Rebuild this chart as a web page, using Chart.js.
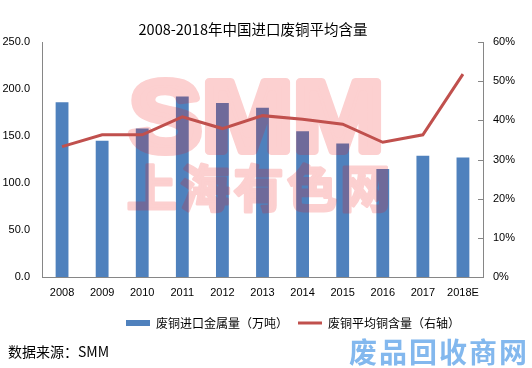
<!DOCTYPE html>
<html>
<head>
<meta charset="utf-8">
<script src="https://cdn.jsdelivr.net/npm/chart.js@4.4.1/dist/chart.umd.min.js"></script>
<style>
  html, body { margin: 0; padding: 0; background: #fff; }
  #wrap { position: relative; width: 532px; height: 368px; overflow: hidden; }
  #source { position: absolute; left: 8px; top: 341px; font: 14px "Noto Sans CJK SC", sans-serif; color: #000; line-height: 20px; }
  #logo { position: absolute; left: 349px; top: 334px; font: bold 28px "Noto Sans CJK SC", sans-serif; color: #83b8ee; letter-spacing: 2px; line-height: 34px; }
</style>
</head>
<body>
<div id="wrap">
  <canvas id="scrapChart" width="532" height="368"></canvas>
  <div id="source">数据来源：SMM</div>
  <div id="logo">废品回收商网</div>
</div>
<script>
// categories and values
const years = ['2008', '2009', '2010', '2011', '2012', '2013', '2014', '2015', '2016', '2017', '2018E'];
const importMetal = [186, 145, 158, 192, 185, 180, 155, 142, 115, 129, 127];   // 万吨
const avgCopper = [33.3, 36.3, 36.3, 40.9, 37.9, 41.2, 40.3, 39.0, 34.4, 36.3, 51.8]; // %
const leftTicks = [0, 50, 100, 150, 200, 250];
const rightTicks = [0, 10, 20, 30, 40, 50, 60];

const labelFont = { family: '"Liberation Sans", "Noto Sans CJK SC", sans-serif', size: 11 };

// SMM / 上海有色网 watermark, drawn over the bars but under the line
const watermark = {
  id: 'watermark',
  afterDatasetDraw(chart, args) {
    if (args.index !== 0) return;
    const off = document.createElement('canvas');
    off.width = chart.width;
    off.height = chart.height;
    const o = off.getContext('2d');
    o.fillStyle = o.strokeStyle = 'rgb(240, 20, 20)';
    o.lineJoin = 'round';

    // big SMM, stretched to fill its box
    o.font = 'bold 100px "Liberation Sans", sans-serif';
    o.textBaseline = 'alphabetic';
    o.textAlign = 'left';
    const w = o.measureText('SMM').width;
    o.save();
    o.translate(129, 151);
    o.scale(255 / w, 1);
    o.lineWidth = 8;
    o.fillText('SMM', 0, 0);
    o.strokeText('SMM', 0, 0);
    o.restore();

    // 上海有色网
    o.font = 'bold 50px "Noto Sans CJK SC", sans-serif';
    o.textBaseline = 'middle';
    o.textAlign = 'center';
    o.lineWidth = 3;
    const chars = '上海有色网';
    for (let i = 0; i < chars.length; i++) {
      const x = 125 + 53.4 * (i + 0.5);
      o.fillText(chars[i], x, 188);
      o.strokeText(chars[i], x, 188);
    }

    const ctx = chart.ctx;
    ctx.save();
    ctx.globalAlpha = 0.2;
    ctx.drawImage(off, 0, 0);
    ctx.restore();
  }
};

// small tick marks on the inside of the right axis
const rightTickMarks = {
  id: 'rightTickMarks',
  afterDraw(chart) {
    const scale = chart.scales.y1;
    const ctx = chart.ctx;
    ctx.save();
    ctx.strokeStyle = '#868686';
    ctx.lineWidth = 1;
    rightTicks.forEach(v => {
      const y = Math.round(scale.getPixelForValue(v)) + 0.5;
      ctx.beginPath();
      ctx.moveTo(scale.left - 5, y);
      ctx.lineTo(scale.left, y);
      ctx.stroke();
    });
    ctx.restore();
  }
};

// title and legend are centred a little off the canvas centre in the original
const shiftBlocks = {
  id: 'shiftBlocks',
  afterLayout(chart) {
    chart.titleBlock.left -= 13;
    chart.titleBlock.right -= 13;
    chart.legend.left += 27;
    chart.legend.right += 27;
  }
};

new Chart(document.getElementById('scrapChart'), {
  data: {
    labels: years,
    datasets: [{
      type: 'bar',
      label: '废铜进口金属量（万吨）',
      data: importMetal,
      backgroundColor: '#4f81bd',
      barPercentage: 0.32,
      categoryPercentage: 1,
      yAxisID: 'y',
      order: 1
    }, {
      type: 'line',
      label: '废铜平均铜含量（右轴）',
      data: avgCopper,
      borderColor: '#c0504d',
      backgroundColor: '#c0504d',
      borderWidth: 3,
      pointRadius: 0,
      tension: 0,
      yAxisID: 'y1',
      order: 0
    }]
  },
  options: {
    responsive: false,
    animation: false,
    layout: { padding: { left: 0, right: 0, top: 0, bottom: 29 } },
    plugins: {
      title: {
        display: true,
        text: '2008-2018年中国进口废铜平均含量',
        color: '#000',
        font: { family: '"Noto Sans CJK SC", sans-serif', size: 14.5, weight: 'normal', lineHeight: 1.2 },
        padding: { top: 21, bottom: 3.6 }
      },
      legend: {
        position: 'bottom',
        labels: {
          color: '#000',
          font: { family: '"Noto Sans CJK SC", sans-serif', size: 12 },
          usePointStyle: true,
          pointStyleWidth: 24,
          boxHeight: 6,
          padding: 10,
          sort: (a, b) => a.datasetIndex - b.datasetIndex,
          generateLabels(chart) {
            return chart.data.datasets.map((ds, i) => ({
              text: ds.label,
              datasetIndex: i,
              fillStyle: ds.backgroundColor,
              strokeStyle: ds.type === 'line' ? ds.borderColor : ds.backgroundColor,
              lineWidth: ds.type === 'line' ? 3 : 0,
              pointStyle: ds.type === 'line' ? 'line' : 'rect',
              hidden: false
            }));
          }
        }
      },
      tooltip: { enabled: false }
    },
    scales: {
      x: {
        grid: { display: false, drawTicks: false },
        border: { color: '#868686' },
        ticks: { color: '#000', font: labelFont, padding: 9 },
        afterFit: s => { s.height = 30; }
      },
      y: {
        position: 'left',
        min: 0,
        max: 250,
        afterBuildTicks: axis => { axis.ticks = leftTicks.map(v => ({ value: v })); },
        grid: { display: false, drawTicks: false },
        border: { color: '#868686' },
        ticks: { color: '#000', font: labelFont, padding: 12, callback: v => v.toFixed(1) },
        afterFit: s => { s.width = 42; }
      },
      y1: {
        position: 'right',
        min: 0,
        max: 60,
        afterBuildTicks: axis => { axis.ticks = rightTicks.map(v => ({ value: v })); },
        grid: { display: false, drawTicks: false },
        border: { color: '#868686' },
        ticks: { color: '#000', font: labelFont, padding: 10, callback: v => v + '%' },
        afterFit: s => { s.width = 49; }
      }
    }
  },
  plugins: [watermark, rightTickMarks, shiftBlocks]
});
</script>
</body>
</html>
